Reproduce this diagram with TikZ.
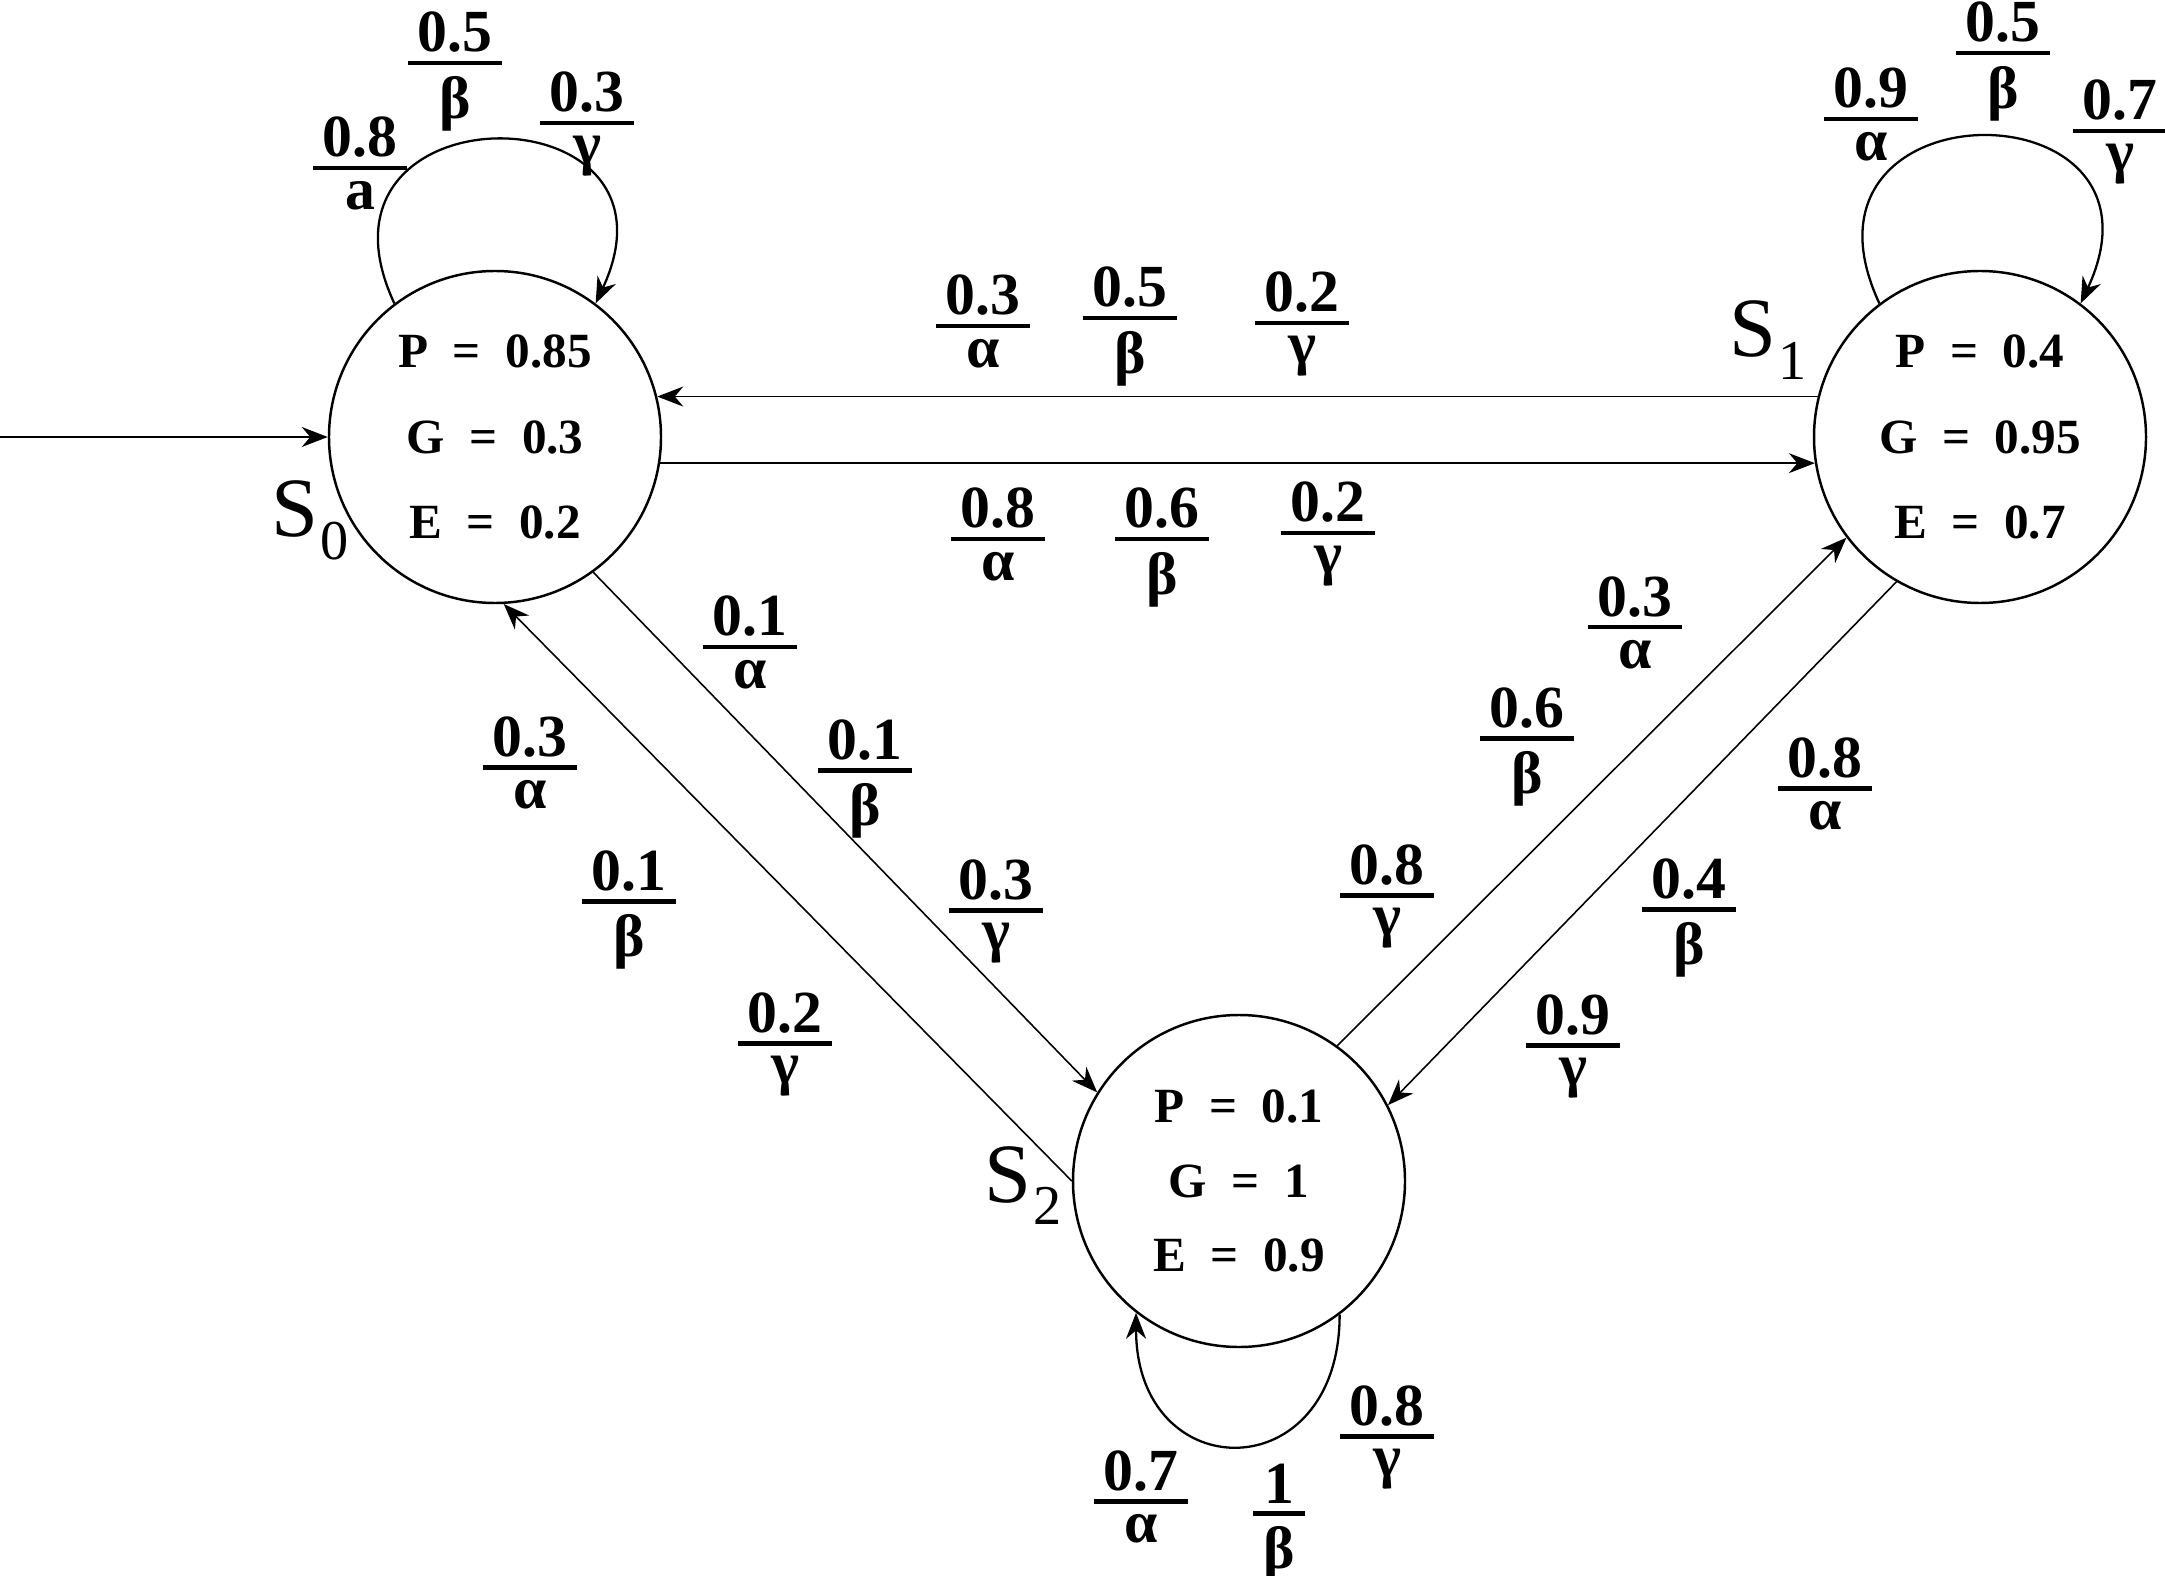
\documentclass[tikz,border=0pt]{standalone}
\usepackage{fontspec}
\setmainfont{Liberation Serif}
\usetikzlibrary{positioning,arrows.meta}

\newcommand{\lbl}[2]{\vtop{\offinterlineskip\halign{\hskip2.8pt\hfil##\hfil\hskip2.8pt\cr#1\cr\noalign{\kern2.3pt\hrule height1.3pt\kern3pt}#2\cr}}}
\newcommand{\eqs}{\hspace{0.5em}=\hspace{0.5em}}
\newcommand{\stname}[1]{S\kern0.5pt\raisebox{-6.5pt}{\fontsize{16}{16}\selectfont #1}}

\begin{document}
\begin{tikzpicture}[>={Stealth[length=2.6mm,width=2mm]},
    state/.style={circle, draw, line width=0.7pt, minimum size=3.32cm, inner sep=0pt,
                  align=center, font=\bfseries\fontsize{14}{24.4}\selectfont},
    prob/.style={anchor=base, inner sep=0pt, font=\bfseries\fontsize{17}{17}\selectfont},
    sname/.style={anchor=base west, inner sep=0pt, font=\fontsize{24}{24}\selectfont},
    link/.style={->, line width=0.45pt},
    loopy/.style={->, line width=0.65pt},
    on grid]
  \useasboundingbox (0,0) rectangle (21.65,15.75);

  % states
  \node (S0) [state] at (4.95,11.38)            {P\eqs0.85\\G\eqs0.3\\E\eqs0.2};
  \node (S1) [state, right=14.85cm of S0]       {P\eqs0.4\\G\eqs0.95\\E\eqs0.7};
  \node (S2) [state, below right=7.44cm and 7.44cm of S0,
              font=\bfseries\fontsize{14}{21.3}\selectfont] {P\eqs0.1\\G\eqs1\\E\eqs0.9};

  \node (n0) [sname] at (2.71,10.38) {\stname{0}};
  \node (n1) [sname] at (17.29,12.18) {\stname{1}};
  \node (n2) [sname] at (9.84,3.73)  {\stname{2}};

  \coordinate (init) at (0,11.38);

  % transitions
  \draw [link]  (init) -- (S0);
  \draw [link]  (S0.-9) -- (S1.189);
  \draw [link]  (S1.166) -- (S0.14);
  \draw [link]  (S0.-54.5) -- (S2.148.6);
  \draw [link]  (S2.180) -- (S0.-87.3);
  \draw [link]  (S2.54.8) -- (S1.217.4);
  \draw [link]  (S1.240.4) -- (S2.27.8);
  \draw [loopy] (S0.127) .. controls +(115:2.4) and +(65:2.4) .. (S0.53);
  \draw [loopy] (S1.127) .. controls +(115:2.45) and +(65:2.45) .. (S1.53);
  \draw [loopy] (S2.-53) .. controls +(-90:1.76) and +(-90:1.76) .. (S2.232);

  % S0 -> S1
  \node (a01) [prob] at (9.98,10.47)  {\lbl{0.8}{α}};
  \node (b01) [prob] at (11.62,10.47) {\lbl{0.6}{β}};
  \node (g01) [prob] at (13.28,10.53) {\lbl{0.2}{γ}};
  % S1 -> S0
  \node (a10) [prob] at (9.83,12.60)  {\lbl{0.3}{α}};
  \node (b10) [prob] at (11.30,12.68) {\lbl{0.5}{β}};
  \node (g10) [prob] at (13.02,12.63) {\lbl{0.2}{γ}};
  % S0 -> S2
  \node (a02) [prob] at (7.50,9.39)   {\lbl{0.1}{α}};
  \node (b02) [prob] at (8.65,8.16)   {\lbl{0.1}{β}};
  \node (g02) [prob] at (9.96,6.76)   {\lbl{0.3}{γ}};
  % S2 -> S0
  \node (a20) [prob] at (5.30,8.19)   {\lbl{0.3}{α}};
  \node (b20) [prob] at (6.29,6.85)   {\lbl{0.1}{β}};
  \node (g20) [prob] at (7.85,5.43)   {\lbl{0.2}{γ}};
  % S2 -> S1
  \node (a21) [prob] at (16.35,9.59)  {\lbl{0.3}{α}};
  \node (b21) [prob] at (15.27,8.48)  {\lbl{0.6}{β}};
  \node (g21) [prob] at (13.87,6.91)  {\lbl{0.8}{γ}};
  % S1 -> S2
  \node (a12) [prob] at (18.25,7.98)  {\lbl{0.8}{α}};
  \node (b12) [prob] at (16.89,6.77)  {\lbl{0.4}{β}};
  \node (g12) [prob] at (15.73,5.41)  {\lbl{0.9}{γ}};
  % loops
  \node (a00) [prob] at (3.60,14.18)  {\lbl{0.8}{a}};
  \node (b00) [prob] at (4.55,15.23)  {\lbl{0.5}{β}};
  \node (g00) [prob] at (5.87,14.63)  {\lbl{0.3}{γ}};
  \node (a11) [prob] at (18.71,14.67) {\lbl{0.9}{α}};
  \node (b11) [prob] at (20.03,15.33) {\lbl{0.5}{β}};
  \node (g11) [prob] at (21.20,14.55) {\lbl{0.7}{γ}};
  \node (a22) [prob] at (11.41,0.85)  {\lbl{0.7}{α}};
  \node (b22) [prob] at (12.79,0.72)  {\lbl{1}{β}};
  \node (g22) [prob] at (13.87,1.50)  {\lbl{0.8}{γ}};
\end{tikzpicture}
\end{document}
